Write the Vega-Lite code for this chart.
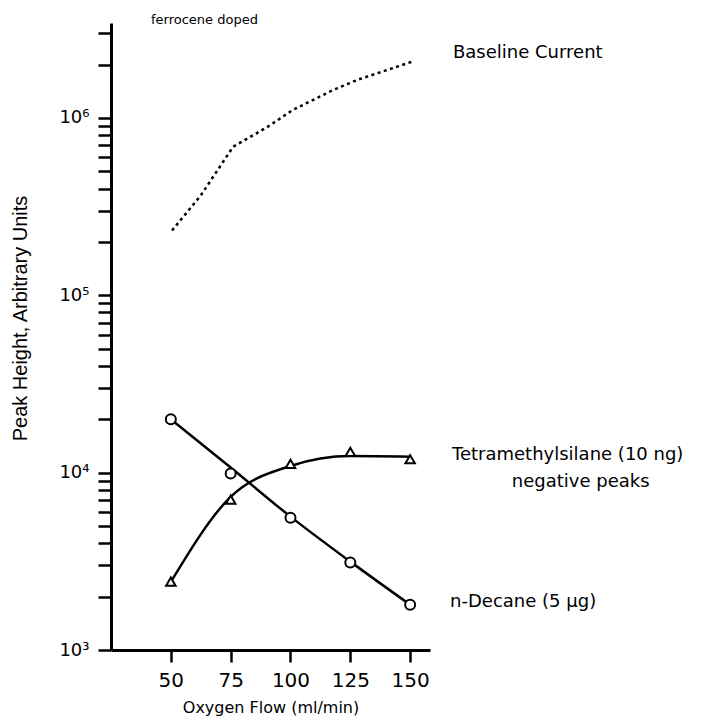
{
  "$schema": "https://vega.github.io/schema/vega-lite/v6.json",
  "width": 319,
  "height": 627,
  "autosize": "none",
  "padding": {"left": 111, "top": 23, "right": 298, "bottom": 73},
  "background": "white",
  "config": {
    "view": {"stroke": null},
    "font": "DejaVu Sans",
    "axis": {
      "grid": false,
      "domainColor": "black",
      "tickColor": "black",
      "labelColor": "black",
      "titleColor": "black",
      "titleFontWeight": "normal",
      "labelFont": "DejaVu Sans",
      "titleFont": "DejaVu Sans"
    }
  },
  "datasets": {
    "measured": [
      {"flow": 50, "compound": "n-Decane", "value": 20000, "fit": 20000},
      {"flow": 75, "compound": "n-Decane", "value": 9900, "fit": 10700},
      {"flow": 100, "compound": "n-Decane", "value": 5570, "fit": 5650},
      {"flow": 125, "compound": "n-Decane", "value": 3110, "fit": 3150},
      {"flow": 150, "compound": "n-Decane", "value": 1800, "fit": 1800},
      {"flow": 50, "compound": "Tetramethylsilane", "value": 2430, "fit": 2420},
      {"flow": 75, "compound": "Tetramethylsilane", "value": 7050, "fit": 7300},
      {"flow": 100, "compound": "Tetramethylsilane", "value": 11200, "fit": 10900},
      {"flow": 125, "compound": "Tetramethylsilane", "value": 13100, "fit": 12400},
      {"flow": 150, "compound": "Tetramethylsilane", "value": 11900, "fit": 12300}
    ],
    "baseline": [
      {"flow": 50.5, "value": 232000},
      {"flow": 62.5, "value": 365000},
      {"flow": 69.6, "value": 509000},
      {"flow": 76, "value": 687000},
      {"flow": 90.4, "value": 890000},
      {"flow": 101, "value": 1110000},
      {"flow": 118, "value": 1440000},
      {"flow": 128, "value": 1640000},
      {"flow": 151.5, "value": 2090000}
    ],
    "labels": [
      {"text": "ferrocene doped", "flow": 41.7, "value": 3560000, "size": "small"},
      {"text": "Baseline  Current", "flow": 167.9, "value": 2320000, "size": "big"},
      {"text": "Tetramethylsilane (10 ng)", "flow": 167.5, "value": 12500, "size": "big"},
      {"text": "n-Decane (5 \u03bcg)", "flow": 166.7, "value": 1870, "size": "big"}
    ]
  },
  "layer": [
    {
      "data": {"name": "baseline"},
      "mark": {"type": "line", "color": "black", "strokeWidth": 2.5, "strokeDash": [3, 3.5]},
      "encoding": {
        "x": {
          "field": "flow", "type": "quantitative",
          "scale": {"domain": [25, 158.3], "nice": false, "zero": false},
          "axis": {
            "values": [50, 75, 100, 125, 150],
            "domainWidth": 3,
            "tickWidth": 2.5,
            "tickSize": 12,
            "labelPadding": 8,
            "labelFontSize": 20,
            "title": "Oxygen Flow  (ml/min)",
            "titleFontSize": 16,
            "titlePadding": 9
          }
        },
        "y": {
          "field": "value", "type": "quantitative",
          "scale": {"type": "log", "domain": [1000, 3430000], "nice": false},
          "axis": {
            "values": [1000, 2000, 3000, 4000, 5000, 6000, 7000, 8000, 9000, 10000, 20000, 30000, 40000, 50000, 60000, 70000, 80000, 90000, 100000, 200000, 300000, 400000, 500000, 600000, 700000, 800000, 900000, 1000000, 2000000, 3000000],
            "labelExpr": "datum.value == 1000 ? '10\u00b3' : datum.value == 10000 ? '10\u2074' : datum.value == 100000 ? '10\u2075' : datum.value == 1000000 ? '10\u2076' : ''",
            "domainWidth": 3,
            "tickWidth": 2.5,
            "tickSize": 13,
            "labelPadding": 9,
            "labelFontSize": 18,
            "title": "Peak Height, Arbitrary Units",
            "titleFont": "Liberation Sans",
            "titleFontSize": 20,
            "titlePadding": 28,
            "titleY": 295
          }
        }
      }
    },
    {
      "data": {"name": "measured"},
      "mark": {"type": "line", "color": "black", "strokeWidth": 2.5, "interpolate": "monotone"},
      "encoding": {
        "x": {"field": "flow", "type": "quantitative"},
        "y": {"field": "fit", "type": "quantitative"},
        "detail": {"field": "compound"}
      }
    },
    {
      "data": {"name": "measured"},
      "transform": [{"filter": "datum.compound == 'n-Decane'"}],
      "mark": {"type": "point", "shape": "circle", "filled": true, "fill": "white", "stroke": "black", "strokeWidth": 2, "size": 100, "opacity": 1},
      "encoding": {
        "x": {"field": "flow", "type": "quantitative"},
        "y": {"field": "value", "type": "quantitative"}
      }
    },
    {
      "data": {"name": "measured"},
      "transform": [{"filter": "datum.compound == 'Tetramethylsilane'"}],
      "mark": {"type": "point", "shape": "triangle-up", "filled": true, "fill": "white", "stroke": "black", "strokeWidth": 2, "size": 90, "opacity": 1},
      "encoding": {
        "x": {"field": "flow", "type": "quantitative"},
        "y": {"field": "value", "type": "quantitative"}
      }
    },
    {
      "data": {"name": "labels"},
      "transform": [{"filter": "datum.size == 'big'"}],
      "mark": {"type": "text", "align": "left", "baseline": "middle", "fontSize": 18, "color": "black"},
      "encoding": {
        "x": {"field": "flow", "type": "quantitative"},
        "y": {"field": "value", "type": "quantitative"},
        "text": {"field": "text"}
      }
    },
    {
      "data": {"name": "labels"},
      "transform": [{"filter": "datum.size == 'small'"}],
      "mark": {"type": "text", "align": "left", "baseline": "middle", "fontSize": 13, "color": "black"},
      "encoding": {
        "x": {"field": "flow", "type": "quantitative"},
        "y": {"field": "value", "type": "quantitative"},
        "text": {"field": "text"}
      }
    },
    {
      "data": {"values": [{"text": "negative  peaks", "flow": 221.3, "value": 8900}]},
      "mark": {"type": "text", "align": "center", "baseline": "middle", "fontSize": 18, "color": "black"},
      "encoding": {
        "x": {"field": "flow", "type": "quantitative"},
        "y": {"field": "value", "type": "quantitative"},
        "text": {"field": "text"}
      }
    }
  ]
}
